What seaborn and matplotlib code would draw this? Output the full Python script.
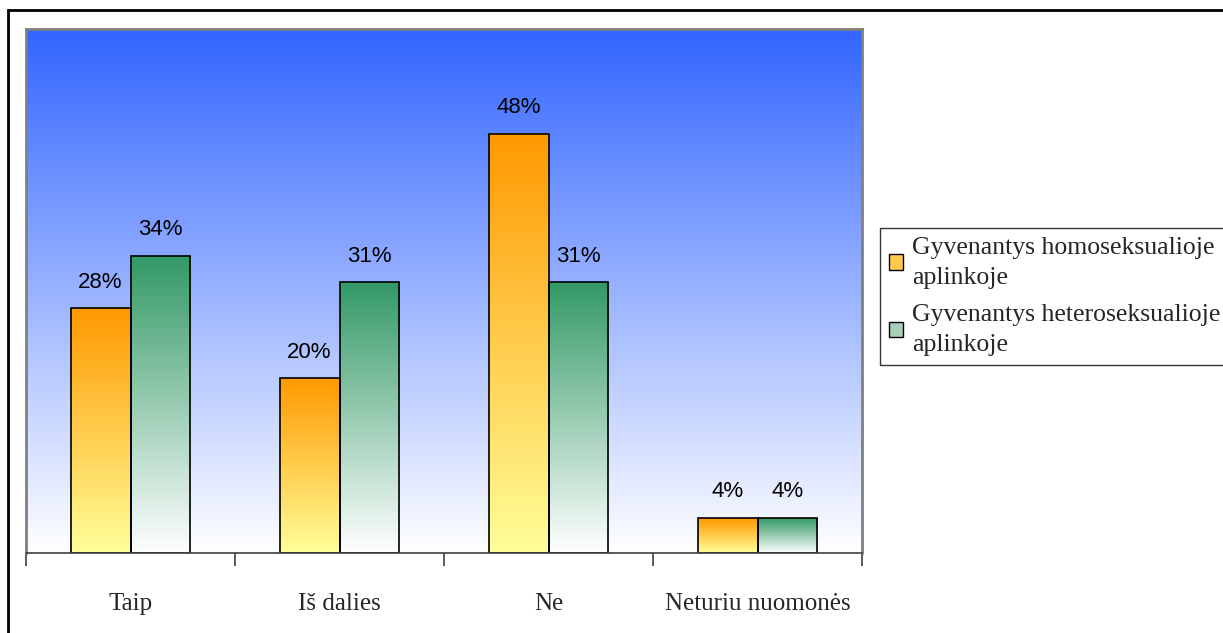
"""
Grouped bar chart with gradient fills
"""

import numpy as np
import pandas as pd
import matplotlib
matplotlib.use("Agg")
import matplotlib.pyplot as plt
import seaborn as sns
from matplotlib.colors import LinearSegmentedColormap
from matplotlib.patches import Rectangle, Patch

sns.set_theme(style="white")
plt.rcParams['font.family'] = ['Liberation Serif', 'DejaVu Serif']

# ============================================================
# Data
# ============================================================

CATEGORIES = ["Taip", "Iš dalies", "Ne", "Neturiu nuomonės"]
SERIES = ["Gyvenantys homoseksualioje\naplinkoje",
          "Gyvenantys heteroseksualioje\naplinkoje"]
HOMO = [28, 20, 48, 4]
HETERO = [34, 31, 31, 4]

df = pd.DataFrame({
    "category": CATEGORIES * 2,
    "series": [SERIES[0]] * 4 + [SERIES[1]] * 4,
    "value": HOMO + HETERO,
})

# gradients: bottom colour -> top colour
cmap_orange = LinearSegmentedColormap.from_list("or", ["#FFFF99", "#FF9900"])
cmap_green = LinearSegmentedColormap.from_list("gr", ["#FFFFFF", "#339966"])
cmap_bg = LinearSegmentedColormap.from_list("bg", ["#FFFFFF", "#3366FF"])

# ============================================================
# Plot
# ============================================================

W, H = 1223, 633
fig = plt.figure(figsize=(W / 100, H / 100), dpi=100)
ax = fig.add_axes([26 / W, (H - 553) / H, 836 / W, (553 - 29) / H])

sns.barplot(data=df, x="category", y="value", hue="series", order=CATEGORIES,
            hue_order=SERIES, width=0.574, dodge=True, edgecolor="black",
            linewidth=1.2, ax=ax, legend=False)

grad = np.linspace(0, 1, 256).reshape(-1, 1)

# background gradient
ax.imshow(grad, cmap=cmap_bg, origin="lower", aspect="auto",
          extent=[0, 1, 0, 1], transform=ax.transAxes, zorder=0)

# bar gradients + value labels
for i, bar in enumerate(ax.patches):
    cmap = cmap_orange if i < 4 else cmap_green
    x, y = bar.get_x(), bar.get_y()
    w, h = bar.get_width(), bar.get_height()
    ax.imshow(grad, cmap=cmap, origin="lower", aspect="auto",
              extent=[x, x + w, y, y + h], zorder=1.5)
    bar.set_facecolor("none")
    bar.set_zorder(2)
    ax.text(x + w / 2, h + 1.8, f"{int(h)}%", ha="center", va="bottom",
            fontsize=16, family="Liberation Sans", color="black")

ax.set_xlim(-0.5, 3.5)
ax.set_ylim(0, 60)
ax.set_xlabel("")
ax.set_ylabel("")
ax.set_yticks([])

ax.set_xticks(range(4))
ax.set_xticklabels(CATEGORIES, fontsize=18)
ax.set_xticks([-0.5, 0.5, 1.5, 2.5, 3.5], minor=True)
ax.tick_params(axis="x", which="major", length=0, pad=29)
ax.tick_params(axis="x", which="minor", length=9, width=1.2,
               color="#404040", direction="out", bottom=True)

for side in ["top", "left", "right"]:
    ax.spines[side].set_color("#808080")
    ax.spines[side].set_linewidth(2)
ax.spines["bottom"].set_color("#404040")
ax.spines["bottom"].set_linewidth(1.2)

# legend
handles = [Patch(facecolor="#FFC94D", edgecolor="black", linewidth=1),
           Patch(facecolor="#A8CDB8", edgecolor="black", linewidth=1)]
leg = fig.legend(handles, SERIES, loc="upper left",
                 bbox_to_anchor=(880 / W, 1 - 228 / H),
                 frameon=True, fancybox=False, fontsize=18.5,
                 handlelength=0.55, handleheight=0.55, handletextpad=0.35,
                 borderpad=0.35, labelspacing=0.6, borderaxespad=0)
for t in leg.get_texts():
    t.set_linespacing(1.45)
leg.get_frame().set_edgecolor("black")
leg.get_frame().set_linewidth(1)

# outer frame
fig.patches.append(Rectangle((8 / W, -0.01), 1.02, 1 - 10 / H + 0.01,
                             transform=fig.transFigure, fill=False,
                             edgecolor="black", linewidth=2))

fig.savefig("out.png", dpi=100)
